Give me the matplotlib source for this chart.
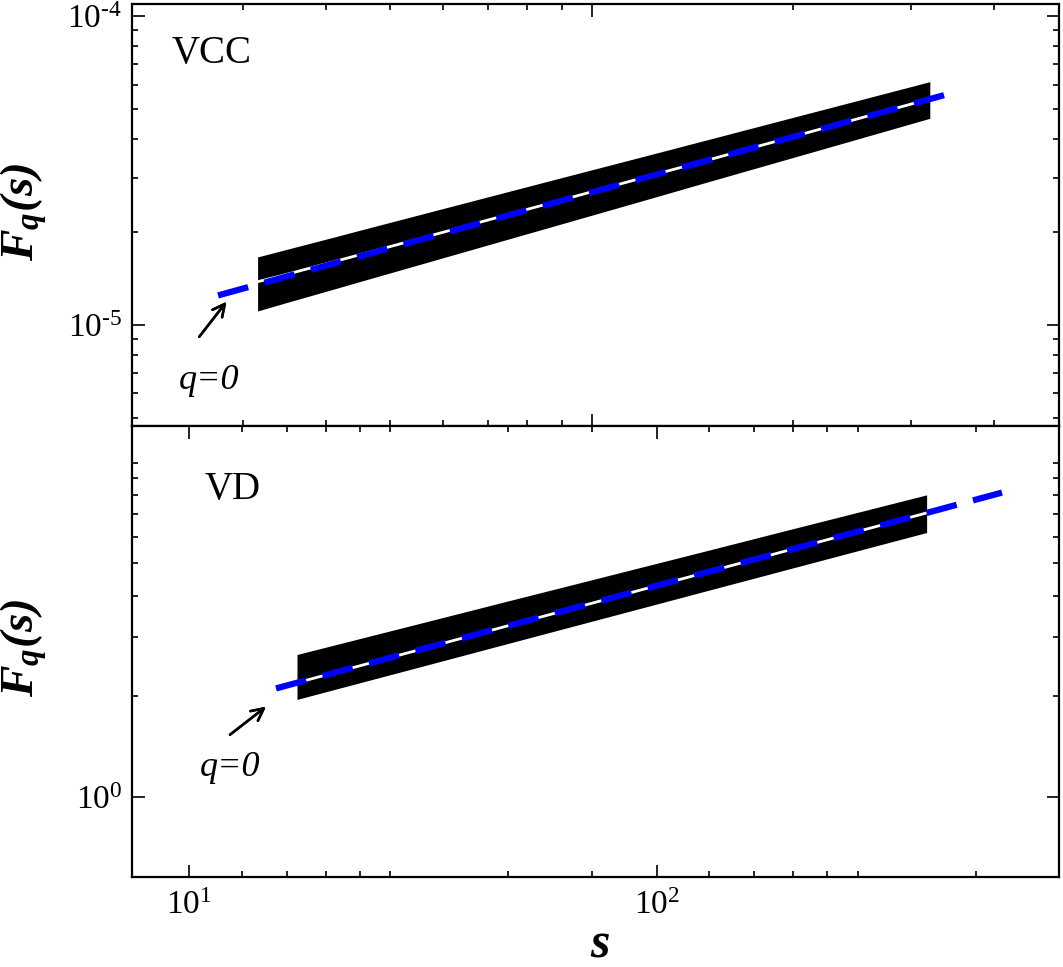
import numpy as np
import matplotlib.pyplot as plt
from matplotlib.ticker import NullFormatter

plt.rcParams['font.family'] = 'Liberation Serif'
plt.rcParams['mathtext.fontset'] = 'custom'
plt.rcParams['mathtext.rm'] = 'Liberation Serif'
plt.rcParams['mathtext.it'] = 'Liberation Serif:italic'
plt.rcParams['mathtext.bf'] = 'Liberation Serif:bold:italic'

# --- VCC panel (top) ---
s_vcc = [14, 16, 20, 24, 32, 48, 64, 96, 128, 192, 256, 384]
vcc_up = [1.660e-5, 1.750e-5, 1.910e-5, 2.054e-5, 2.301e-5, 2.700e-5,
          3.024e-5, 3.546e-5, 3.972e-5, 4.663e-5, 5.223e-5, 6.131e-5]
vcc_lo = [1.110e-5, 1.177e-5, 1.296e-5, 1.403e-5, 1.589e-5, 1.894e-5,
          2.145e-5, 2.557e-5, 2.899e-5, 3.455e-5, 3.913e-5, 4.666e-5]
vcc_q0 = [1.380e-5, 1.452e-5, 1.590e-5, 1.712e-5, 1.925e-5, 2.275e-5,
          2.560e-5, 3.030e-5, 3.409e-5, 4.037e-5, 4.552e-5, 5.391e-5]
vcc_fit_s = [11.52, 438.5]
vcc_fit = [1.246e-5, 5.69e-5]

# --- VD panel (bottom) ---
s_vd = [17, 20, 24, 32, 48, 64, 96, 128, 192, 256, 378]
vd_up = [2.667, 2.825, 3.014, 3.337, 3.855, 4.267, 4.926, 5.454, 6.302, 6.977, 8.010]
vd_lo = [1.957, 2.079, 2.224, 2.474, 2.876, 3.200, 3.719, 4.138, 4.809, 5.350, 6.180]
vd_q0 = [2.195, 2.334, 2.500, 2.787, 3.249, 3.618, 4.219, 4.701, 5.476, 6.106, 7.072]
vd_fit_s = [15.33, 548]
vd_fit = [2.111, 8.136]

# tick positions
top_xmajor = [72.6]
top_xminor = [13.0, 19.58, 26.88, 34.95, 43.62, 52.72, 62.6, 195.4, 349.5, 527.7]
bot_xmajor = [10, 100]
bot_xlabels = [r'$10^{1}$', r'$10^{2}$']
bot_xminor = [12.98, 16.16, 19.58, 23.19, 26.88, 48.0, 72.6, 129.6, 161.5,
              195.4, 231.4, 269.2, 481.5]

W, H = 1063, 967


def px(x, y):
    return (x / W, 1 - y / H)


fig = plt.figure(figsize=(W / 100, H / 100), dpi=100)
ax1 = fig.add_axes([0.1239, 0.5598, 0.8723, 0.4361])
ax2 = fig.add_axes([0.1239, 0.0931, 0.8723, 0.4667])

dash = (0, (5, 2.7))
for ax, s, lo, up, q0, fs, ff in [
        (ax1, s_vcc, vcc_lo, vcc_up, vcc_q0, vcc_fit_s, vcc_fit),
        (ax2, s_vd, vd_lo, vd_up, vd_q0, vd_fit_s, vd_fit)]:
    ax.fill_between(s, lo, up, color='black', lw=0)
    ax.plot(s, q0, color='white', lw=2)
    ax.plot(fs, ff, color='#0000ff', lw=4.5, ls=dash, dash_capstyle='butt')
    ax.set_xscale('log')
    ax.set_yscale('log')
    ax.set_xlim(7.53, 725.5)
    for sp in ax.spines.values():
        sp.set_linewidth(1.6)
    ax.tick_params(which='both', direction='in', top=True, right=True,
                   width=1.2, labelsize=24, pad=7)
    ax.tick_params(which='major', length=9)
    ax.tick_params(which='minor', length=4.5)

ax1.set_ylim(4.72e-6, 1.094e-4)
ax1.set_xticks(top_xmajor, [''])
ax1.set_xticks(top_xminor, minor=True)
ax1.set_yticks([1e-5, 1e-4], [r'$10^{\text{-}5}$', r'$10^{\text{-}4}$'])
ax1.set_yticks([5e-6, 6e-6, 7e-6, 8e-6, 9e-6] + [k * 1e-5 for k in range(2, 10)],
               minor=True)

ax2.set_ylim(0.576, 12.9)
ax2.set_xticks(bot_xmajor, bot_xlabels)
ax2.set_xticks(bot_xminor, minor=True)
ax2.set_yticks([1], [r'$10^{0}$'])
ax2.set_yticks(list(range(2, 11)), minor=True)
ax2.tick_params(axis='x', which='major', pad=10)

for ax in (ax1, ax2):
    ax.xaxis.set_minor_formatter(NullFormatter())
    ax.yaxis.set_minor_formatter(NullFormatter())

fig.text(*px(212, 53), 'VCC', fontsize=28, ha='center', va='center')
fig.text(*px(233, 489), 'VD', fontsize=28, ha='center', va='center')

fig.text(*px(24, 212), r'$\mathbf{F_q(s)}$', fontsize=34, rotation=90,
         ha='center', va='center')
fig.text(*px(24, 648), r'$\mathbf{F_q(s)}$', fontsize=34, rotation=90,
         ha='center', va='center')
fig.text(*px(600, 944), r'$\mathbf{s}$', fontsize=36, ha='center', va='center')

arrow = dict(arrowstyle='->', lw=1.8, color='black', mutation_scale=22,
             shrinkA=0, shrinkB=0)
fig.add_artist(plt.annotate('', xy=px(226.5, 301.7), xytext=px(199.3, 336.7),
                            xycoords='figure fraction', textcoords='figure fraction',
                            arrowprops=arrow))
fig.add_artist(plt.annotate('', xy=px(266, 706.7), xytext=px(230, 734.7),
                            xycoords='figure fraction', textcoords='figure fraction',
                            arrowprops=arrow))
fig.text(*px(209, 380), 'q=0', fontsize=26, style='italic', ha='center', va='center')
fig.text(*px(230, 767), 'q=0', fontsize=26, style='italic', ha='center', va='center')

fig.savefig('out.png', dpi=100)
